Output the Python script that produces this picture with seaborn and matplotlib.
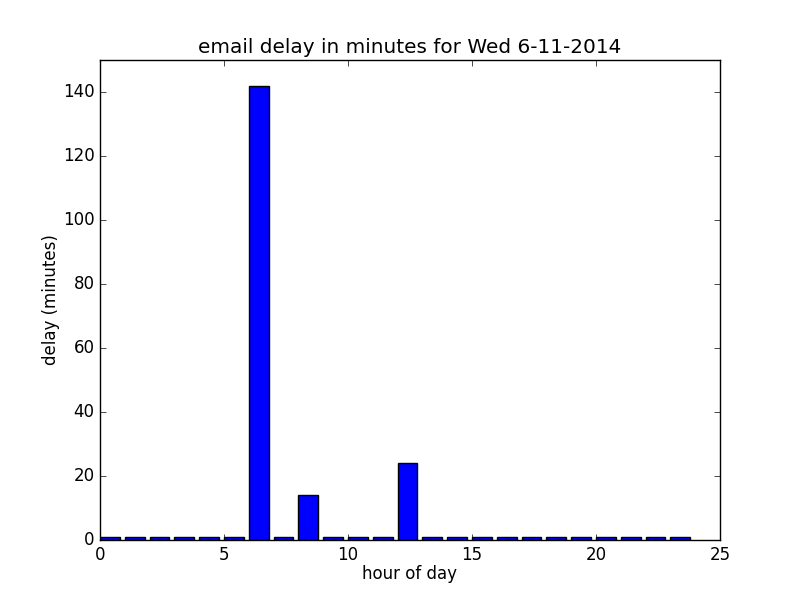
import matplotlib
matplotlib.use("Agg")
import matplotlib.pyplot as plt
import pandas as pd
import seaborn as sns

hours = list(range(24))
delays = [1, 1, 1, 1, 1, 1, 142, 1, 14, 1, 1, 1, 24,
          1, 1, 1, 1, 1, 1, 1, 1, 1, 1, 1]

plt.style.use("classic")
frame = pd.DataFrame({"hour": hours, "delay": delays})

fig, ax = plt.subplots(figsize=(8, 6), dpi=100)
sns.barplot(
    data=frame,
    x="hour",
    y="delay",
    native_scale=True,
    color="blue",
    saturation=1,
    edgecolor="black",
    linewidth=1,
    errorbar=None,
    ax=ax,
)
# matplotlib-1.x style: bars start at the hour instead of centered on it
for patch in ax.patches:
    patch.set_x(patch.get_x() + patch.get_width() / 2)

ax.set_xlim(0, 25)
ax.set_ylim(0, 150)
ax.set_xticks([0, 5, 10, 15, 20, 25])
ax.set_yticks(range(0, 141, 20))
ax.set_xlabel("hour of day", labelpad=1)
ax.set_ylabel("delay (minutes)", labelpad=2)
ax.set_title("email delay in minutes for Wed 6-11-2014")
fig.subplots_adjust(left=0.125, right=0.9, bottom=0.1, top=0.9)
fig.savefig("out.png", dpi=100)
